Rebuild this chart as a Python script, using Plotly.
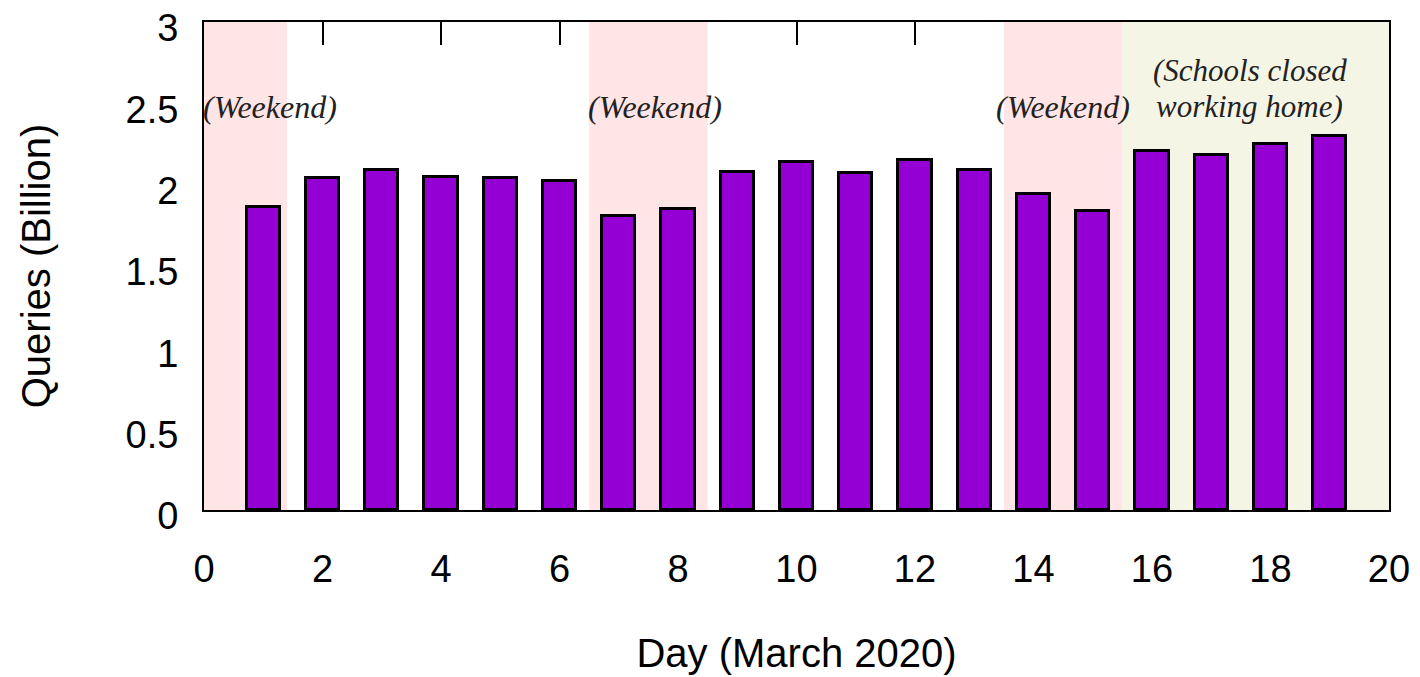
import plotly.graph_objects as go

days = list(range(1, 20))
queries = [1.86, 2.04, 2.09, 2.05, 2.04, 2.02, 1.81, 1.85, 2.08, 2.14, 2.07, 2.15, 2.09,
           1.94, 1.84, 2.21, 2.18, 2.25, 2.30]

weekend_start = [0, 6.5, 13.5]
weekend_end = [1.4, 8.5, 15.5]
weekend_label_x = [1.11, 7.62, 14.5]
school_start = [15.5]
school_end = [20]
school_label_x = 17.65
school_lines = ["(Schools closed", "working home)"]
school_line_y = [2.70, 2.48]
top_ticks = [2, 4, 6, 10, 12]

fig = go.Figure()
fig.add_trace(go.Bar(x=days, y=queries, width=0.56,
                     marker=dict(color="#9400D3", line=dict(color="black", width=3)),
                     showlegend=False))
fig.add_trace(go.Scatter(x=[None], y=[None], xaxis="x2", showlegend=False))

shapes = []
for s, e in zip(weekend_start, weekend_end):
    shapes.append(dict(type="rect", xref="x", yref="paper", x0=s, x1=e, y0=0, y1=1,
                       fillcolor="#FFE5E5", line=dict(width=0), layer="below"))
for s, e in zip(school_start, school_end):
    shapes.append(dict(type="rect", xref="x", yref="paper", x0=s, x1=e, y0=0, y1=1,
                       fillcolor="#F5F5E6", line=dict(width=0), layer="below"))

ann_font = dict(family="Liberation Serif", size=32, color="#222")
school_font = dict(family="Liberation Serif", size=31, color="#222")
annotations = []
for xx in weekend_label_x:
    annotations.append(dict(x=xx, y=2.48, xref="x", yref="y", text="<i>(Weekend)</i>",
                            showarrow=False, font=ann_font, xanchor="center", yanchor="middle"))
for txt, yy in zip(school_lines, school_line_y):
    annotations.append(dict(x=school_label_x, y=yy, xref="x", yref="y",
                            text="<i>" + txt + "</i>",
                            showarrow=False, font=school_font, xanchor="center", yanchor="middle"))

fig.update_layout(
    width=1420, height=677,
    margin=dict(l=196, r=39, t=14, b=175),
    plot_bgcolor="white", paper_bgcolor="white",
    font=dict(family="Liberation Sans", size=38, color="black"),
    shapes=shapes, annotations=annotations,
    bargap=0,
    xaxis=dict(range=[0, 20], tickvals=[0, 2, 4, 6, 8, 10, 12, 14, 16, 18, 20],
               showgrid=False, zeroline=False, showline=True, mirror=True,
               linecolor="black", linewidth=2, ticks="", ticklabelstandoff=24,
               automargin=False, ticklabeloverflow="allow",
               title=dict(text="Day (March 2020)", standoff=50, font=dict(size=40))),
    xaxis2=dict(range=[0, 20], overlaying="x", side="top", tickvals=top_ticks,
                ticks="inside", ticklen=23, tickwidth=2, tickcolor="black",
                showticklabels=False, showgrid=False, zeroline=False, showline=False,
                automargin=False),
    yaxis=dict(range=[0, 3], tickvals=[0, 0.5, 1, 1.5, 2, 2.5, 3],
               ticktext=["0", "0.5", "1", "1.5", "2", "2.5", "3"],
               showgrid=False, zeroline=False, showline=True, mirror=True,
               linecolor="black", linewidth=2, ticks="", ticklabelstandoff=16,
               ticklabelshift=6,
               automargin=False, ticklabeloverflow="allow",
               title=dict(text="Queries (Billion)", standoff=63, font=dict(size=40))),
)

fig.write_html("out.html")
